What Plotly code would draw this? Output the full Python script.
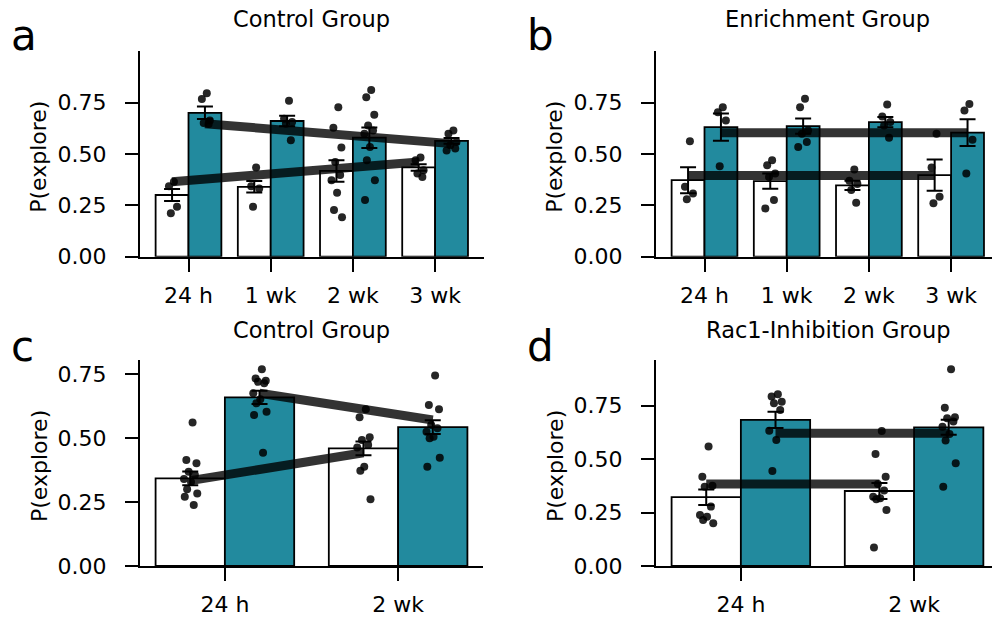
import plotly.graph_objects as go

TEAL = "#228a9e"
FONT = "DejaVu Sans"

# ---------------- Panel a: Control Group ----------------
A_LABELS = ["24 h", "1 wk", "2 wk", "3 wk"]
A_WHITE_MEAN = [0.300, 0.340, 0.417, 0.434]
A_WHITE_SEM = [0.029, 0.028, 0.052, 0.016]
A_TEAL_MEAN = [0.700, 0.660, 0.579, 0.563]
A_TEAL_SEM = [0.030, 0.026, 0.050, 0.014]
A_WHITE_PTS = [
    [0.364, 0.343, 0.243, 0.211],
    [0.434, 0.343, 0.332, 0.243],
    [0.727, 0.627, 0.531, 0.461, 0.397, 0.372, 0.311, 0.227, 0.192],
    [0.482, 0.469, 0.421, 0.405, 0.388],
]
A_TEAL_PTS = [
    [0.795, 0.767, 0.663, 0.650, 0.645],
    [0.759, 0.671, 0.655, 0.647, 0.566],
    [0.811, 0.775, 0.690, 0.638, 0.614, 0.598, 0.533, 0.469, 0.372, 0.276],
    [0.614, 0.598, 0.558, 0.542, 0.526, 0.517],
]
A_WHITE_FIT = [0.364, 0.461]
A_TEAL_FIT = [0.647, 0.550]

# ---------------- Panel b: Enrichment Group ----------------
B_LABELS = ["24 h", "1 wk", "2 wk", "3 wk"]
B_WHITE_MEAN = [0.372, 0.368, 0.347, 0.397]
B_WHITE_SEM = [0.063, 0.037, 0.022, 0.076]
B_TEAL_MEAN = [0.630, 0.635, 0.655, 0.603]
B_TEAL_SEM = [0.066, 0.037, 0.025, 0.065]
B_WHITE_PTS = [
    [0.561, 0.340, 0.308, 0.279],
    [0.469, 0.445, 0.405, 0.388, 0.276, 0.235],
    [0.424, 0.369, 0.353, 0.324, 0.263],
    [0.598, 0.434, 0.292, 0.260],
]
B_TEAL_PTS = [
    [0.727, 0.703, 0.663, 0.440],
    [0.768, 0.727, 0.614, 0.598, 0.558, 0.533],
    [0.740, 0.682, 0.655, 0.638, 0.579],
    [0.743, 0.711, 0.569, 0.405],
]
B_WHITE_FIT = [0.395, 0.395]
B_TEAL_FIT = [0.603, 0.603]

# ---------------- Panel c: Control Group ----------------
C_LABELS = ["24 h", "2 wk"]
C_WHITE_MEAN = [0.343, 0.460]
C_WHITE_SEM = [0.027, 0.027]
C_TEAL_MEAN = [0.660, 0.543]
C_TEAL_SEM = [0.026, 0.027]
C_WHITE_PTS = [
    [0.561, 0.415, 0.402, 0.369, 0.356, 0.340, 0.329, 0.300, 0.284, 0.271, 0.239],
    [0.613, 0.582, 0.504, 0.493, 0.473, 0.464, 0.388, 0.373, 0.261],
]
C_TEAL_PTS = [
    [0.770, 0.734, 0.725, 0.721, 0.715, 0.676, 0.652, 0.637, 0.604, 0.591, 0.443],
    [0.745, 0.630, 0.613, 0.552, 0.539, 0.525, 0.506, 0.500, 0.424, 0.388],
]
C_WHITE_FIT = [0.334, 0.443]
C_TEAL_FIT = [0.676, 0.571]

# ---------------- Panel d: Rac1-Inhibition Group ----------------
D_LABELS = ["24 h", "2 wk"]
D_WHITE_MEAN = [0.322, 0.351]
D_WHITE_SEM = [0.036, 0.037]
D_TEAL_MEAN = [0.684, 0.649]
D_TEAL_SEM = [0.038, 0.035]
D_WHITE_PTS = [
    [0.559, 0.418, 0.375, 0.371, 0.278, 0.239, 0.231, 0.215, 0.200],
    [0.632, 0.524, 0.418, 0.384, 0.353, 0.324, 0.317, 0.312, 0.262, 0.086],
]
D_TEAL_PTS = [
    [0.804, 0.793, 0.769, 0.762, 0.730, 0.633, 0.590, 0.445],
    [0.921, 0.741, 0.696, 0.691, 0.676, 0.652, 0.618, 0.587, 0.481, 0.371],
]
D_WHITE_FIT = [0.384, 0.384]
D_TEAL_FIT = [0.621, 0.621]

# deterministic jitter pattern (fraction of max jitter)
JITTER = [0.3, -0.5, 0.8, -0.2, 0.6, -0.8, 0.1, -0.4, 0.9, -0.7, 0.45]

W, H = 992, 619


def px_x(p):
    return p / W


def px_y(p):
    return 1 - p / H


panels = [
    dict(letter="a", title="Control Group", labels=A_LABELS,
         wm=A_WHITE_MEAN, ws=A_WHITE_SEM, tm=A_TEAL_MEAN, ts=A_TEAL_SEM,
         wp=A_WHITE_PTS, tp=A_TEAL_PTS, wf=A_WHITE_FIT, tf=A_TEAL_FIT,
         xdom=(140, 483.6), ydom=(51.1, 256.7), xr=(-0.59, 3.59), yr=(0, 1.0),
         jit=0.075, left=140, top=51, bottom=256.7),
    dict(letter="b", title="Enrichment Group", labels=B_LABELS,
         wm=B_WHITE_MEAN, ws=B_WHITE_SEM, tm=B_TEAL_MEAN, ts=B_TEAL_SEM,
         wp=B_WHITE_PTS, tp=B_TEAL_PTS, wf=B_WHITE_FIT, tf=B_TEAL_FIT,
         xdom=(656, 992), ydom=(51.1, 256.7), xr=(-0.59, -0.59 + 336 / 82.2), yr=(0, 1.0),
         jit=0.075, left=656, top=51, bottom=256.7),
    dict(letter="c", title="Control Group", labels=C_LABELS,
         wm=C_WHITE_MEAN, ws=C_WHITE_SEM, tm=C_TEAL_MEAN, ts=C_TEAL_SEM,
         wp=C_WHITE_PTS, tp=C_TEAL_PTS, wf=C_WHITE_FIT, tf=C_TEAL_FIT,
         xdom=(140, 483), ydom=(360, 566), xr=(-0.49, 1.49), yr=(0, 0.806),
         jit=0.045, left=140, top=360, bottom=566),
    dict(letter="d", title="Rac1-Inhibition Group", labels=D_LABELS,
         wm=D_WHITE_MEAN, ws=D_WHITE_SEM, tm=D_TEAL_MEAN, ts=D_TEAL_SEM,
         wp=D_WHITE_PTS, tp=D_TEAL_PTS, wf=D_WHITE_FIT, tf=D_TEAL_FIT,
         xdom=(656, 992), ydom=(360, 566), xr=(-0.49, -0.49 + 336 / 173.2), yr=(0, 0.964),
         jit=0.045, left=656, top=360, bottom=566),
]

fig = go.Figure()
annotations = []
layout_axes = {}

for i, p in enumerate(panels):
    n = i + 1
    xa = "x" if n == 1 else f"x{n}"
    ya = "y" if n == 1 else f"y{n}"
    xkey = "xaxis" if n == 1 else f"xaxis{n}"
    ykey = "yaxis" if n == 1 else f"yaxis{n}"
    k = len(p["labels"])
    cats = list(range(k))
    xw = [c - 0.2 for c in cats]
    xt = [c + 0.2 for c in cats]

    # bars
    fig.add_trace(go.Bar(x=xw, y=p["wm"], width=0.4, xaxis=xa, yaxis=ya,
                         marker=dict(color="white", line=dict(color="black", width=1.8)),
                         showlegend=False, hoverinfo="skip"))
    fig.add_trace(go.Bar(x=xt, y=p["tm"], width=0.4, xaxis=xa, yaxis=ya,
                         marker=dict(color=TEAL, line=dict(color="black", width=1.8)),
                         showlegend=False, hoverinfo="skip"))

    # fit lines
    fig.add_trace(go.Scatter(x=[xw[0], xw[-1]], y=p["wf"], mode="lines", xaxis=xa, yaxis=ya,
                             line=dict(color="rgba(0,0,0,0.8)", width=9),
                             showlegend=False, hoverinfo="skip"))
    fig.add_trace(go.Scatter(x=[xt[0], xt[-1]], y=p["tf"], mode="lines", xaxis=xa, yaxis=ya,
                             line=dict(color="rgba(0,0,0,0.8)", width=9),
                             showlegend=False, hoverinfo="skip"))

    # error bars
    for xs, m, s in ((xw, p["wm"], p["ws"]), (xt, p["tm"], p["ts"])):
        fig.add_trace(go.Scatter(x=xs, y=m, mode="markers", xaxis=xa, yaxis=ya,
                                 marker=dict(size=1, color="rgba(0,0,0,0)"),
                                 error_y=dict(type="data", array=s, visible=True,
                                              color="black", thickness=2, width=8),
                                 showlegend=False, hoverinfo="skip"))

    # individual points
    for xs, pts in ((xw, p["wp"]), (xt, p["tp"])):
        dx, dy = [], []
        for c, vals in zip(xs, pts):
            for j, v in enumerate(vals):
                dx.append(c + JITTER[j % len(JITTER)] * p["jit"])
                dy.append(v)
        fig.add_trace(go.Scatter(x=dx, y=dy, mode="markers", xaxis=xa, yaxis=ya,
                                 marker=dict(size=8, color="rgba(0,0,0,0.85)", line=dict(width=0)),
                                 showlegend=False, hoverinfo="skip"))

    layout_axes[xkey] = dict(
        domain=[px_x(p["xdom"][0]), px_x(p["xdom"][1])], range=list(p["xr"]),
        anchor=ya, tickmode="array", tickvals=cats, ticktext=p["labels"],
        showline=True, linecolor="black", linewidth=2, ticks="outside",
        ticklen=13, tickwidth=2, tickcolor="black", showgrid=False, zeroline=False,
        tickfont=dict(family=FONT, size=22, color="black"), ticklabelstandoff=5,
        automargin=False, fixedrange=True)
    layout_axes[ykey] = dict(
        domain=[px_y(p["ydom"][1]), px_y(p["ydom"][0])], range=list(p["yr"]),
        anchor=xa, tickmode="array", tickvals=[0, 0.25, 0.5, 0.75],
        ticktext=["0.00", "0.25", "0.50", "0.75"],
        showline=True, linecolor="black", linewidth=2, ticks="outside",
        ticklen=13, tickwidth=2, tickcolor="black", showgrid=False, zeroline=False,
        tickfont=dict(family=FONT, size=22, color="black"), ticklabelstandoff=14,
        automargin=False, fixedrange=True)

    # title
    cx = (p["xdom"][0] + (p["xdom"][0] + (483.6 - 140))) / 2
    ty = 19 if p["top"] < 100 else 330
    annotations.append(dict(text=p["title"], x=px_x(cx), y=px_y(ty), xref="paper", yref="paper",
                            xanchor="center", yanchor="middle", showarrow=False,
                            font=dict(family=FONT, size=22.5, color="black")))
    # panel letter
    ly = 36 if p["top"] < 100 else 346
    annotations.append(dict(text=p["letter"], x=px_x(p["left"] - 131), y=px_y(ly), xref="paper",
                            yref="paper", xanchor="left", yanchor="middle", showarrow=False,
                            font=dict(family=FONT, size=42, color="black")))
    # y label
    yc = (p["top"] + p["bottom"]) / 2 + 3
    annotations.append(dict(text="P(explore)", x=px_x(p["left"] - 101), y=px_y(yc), xref="paper",
                            yref="paper", xanchor="center", yanchor="middle", textangle=-90,
                            showarrow=False, font=dict(family=FONT, size=22, color="black")))

fig.update_layout(
    width=W, height=H, margin=dict(l=0, r=0, t=0, b=0, autoexpand=False),
    paper_bgcolor="white", plot_bgcolor="white",
    barmode="overlay", showlegend=False,
    annotations=annotations,
    font=dict(family=FONT, color="black"),
    **layout_axes,
)

fig.write_html("out.html")
